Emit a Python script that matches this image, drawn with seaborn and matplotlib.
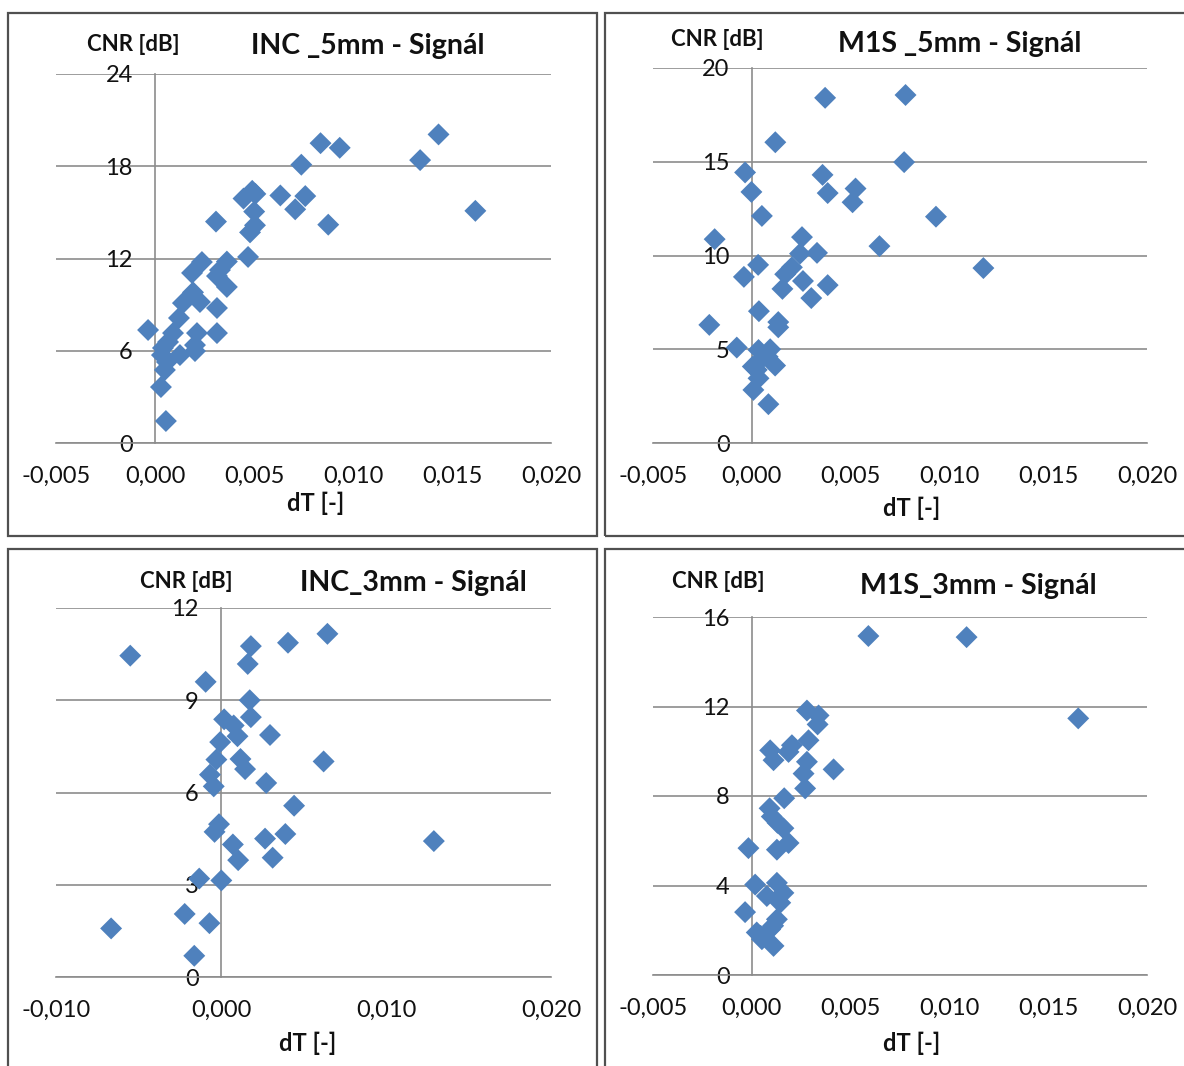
import matplotlib
matplotlib.use("Agg")
import matplotlib.pyplot as plt
import seaborn as sns
import pandas as pd
from matplotlib.patches import Rectangle
from matplotlib.ticker import FixedLocator, FixedFormatter

# ---------------- data ----------------
inc5_dt = [-0.00035, 0.0003, 0.00055, 0.0005, 0.0006, 0.00035, 0.0004, 0.00066, 0.00091, 0.00126,
           0.00121, 0.00141, 0.00192, 0.00202, 0.00202, 0.00212, 0.00227, 0.00187, 0.00237, 0.00313,
           0.00313, 0.00313, 0.00328, 0.00363, 0.00363, 0.00308, 0.0047, 0.0048, 0.00505, 0.00501,
           0.00507, 0.00491, 0.00447, 0.00633, 0.00708, 0.00759, 0.00739, 0.00836, 0.00875, 0.00933,
           0.01339, 0.01432, 0.01618]
inc5_cnr = [7.35, 3.64, 1.43, 4.75, 5.27, 5.72, 6.18, 6.57, 7.15, 5.72,
            8.13, 9.1, 9.8, 5.98, 6.37, 7.15, 9.17, 11.06, 11.77, 7.15,
            8.78, 10.86, 11.25, 10.15, 11.8, 14.4, 12.1, 13.7, 14.16, 15.05,
            16.2, 16.4, 15.9, 16.1, 15.2, 16.06, 18.1, 19.5, 14.2, 19.2,
            18.4, 20.07, 15.1]

m1s5_dt = [0.00371, 0.00778, 0.00119, 0.00771, -0.00034, -0.00002, 0.00358, 0.00384, 0.00525, 0.0051,
           0.00051, 0.00932, -0.00188, 0.00254, 0.00244, 0.0033, 0.00646, 0.01172, 0.00032, -0.0004,
           0.00203, 0.00169, 0.00259, 0.00384, 0.00155, 0.00301, 0.00036, 0.00134, 0.00134, -0.00215,
           -0.00076, 0.00034, 0.00093, 0.00005, 0.00118, 0.00051, 0.00034, 0.00008, 0.00084, 0.00025,
           0.0008]
m1s5_cnr = [18.41, 18.56, 16.04, 14.98, 14.43, 13.39, 14.3, 13.33, 13.57, 12.84,
            12.11, 12.07, 10.87, 10.98, 10.1, 10.14, 10.5, 9.33, 9.5, 8.86,
            9.37, 9.0, 8.64, 8.42, 8.22, 7.73, 7.03, 6.45, 6.17, 6.3,
            5.09, 4.96, 5.0, 4.08, 4.13, 4.5, 3.45, 2.83, 2.07, 3.9,
            4.6]

inc3_dt = [-0.0055, 0.00645, 0.00406, 0.00181, 0.00162, -0.00093, 0.00174, 0.00181, 0.00019, 0.00077,
           0.001, 0.00297, -0.00005, -0.00028, 0.00118, 0.00146, 0.00622, -0.00067, -0.00044, 0.00274,
           0.00443, -0.00012, -0.00039, 0.00072, 0.00267, 0.0039, 0.0129, 0.00104, 0.00313, -0.00132,
           0.00002, -0.0022, -0.00666, -0.0007, -0.00162]
inc3_cnr = [10.45, 11.16, 10.87, 10.76, 10.18, 9.6, 9.0, 8.45, 8.38, 8.18,
            7.83, 7.87, 7.64, 7.07, 7.09, 6.76, 7.01, 6.58, 6.2, 6.31,
            5.57, 4.97, 4.72, 4.31, 4.5, 4.65, 4.42, 3.8, 3.88, 3.2,
            3.14, 2.05, 1.58, 1.75, 0.69]

m1s3_dt = [0.0059, 0.01087, 0.01652, 0.00279, 0.00338, 0.00333, 0.00287, 0.00203, 0.00093, 0.0011,
           0.00186, 0.00279, 0.00262, 0.00414, 0.0027, 0.00164, 0.0009, 0.00101, 0.0013, 0.0016,
           0.00186, 0.00127, -0.00017, 0.00017, 0.00127, 0.0016, 0.00076, 0.00144, -0.00034, 0.00127,
           0.00108, 0.00093, 0.00025, 0.00045, 0.00051, 0.0011]
m1s3_cnr = [15.15, 15.1, 11.47, 11.82, 11.6, 11.2, 10.49, 10.27, 10.04, 9.6,
            9.97, 9.53, 9.0, 9.19, 8.34, 7.9, 7.45, 7.08, 6.8, 6.56,
            5.9, 5.6, 5.67, 4.04, 4.12, 3.67, 3.53, 3.23, 2.81, 2.49,
            2.2, 2.04, 1.9, 1.75, 1.6, 1.3]

titles = ["INC _5mm - Signál", "M1S _5mm - Signál", "INC_3mm - Signál", "M1S_3mm - Signál"]
y_label = "CNR [dB]"
x_label = "dT [-]"

xticks_a = [-0.005, 0.000, 0.005, 0.010, 0.015, 0.020]
xlabels_a = ["-0,005", "0,000", "0,005", "0,010", "0,015", "0,020"]
xticks_b = [-0.010, 0.000, 0.010, 0.020]
xlabels_b = ["-0,010", "0,000", "0,010", "0,020"]

yticks_1 = [0, 6, 12, 18, 24]
yticks_2 = [0, 5, 10, 15, 20]
yticks_3 = [0, 3, 6, 9, 12]
yticks_4 = [0, 4, 8, 12, 16]

# ---------------- style ----------------
sns.set_theme(style="white")
plt.rcParams["font.family"] = ["Lato", "DejaVu Sans"]

W, H = 1184, 1066
fig = plt.figure(figsize=(W / 100, H / 100), dpi=100)
fig.patch.set_facecolor("white")

def fx(px):
    return px / W

def fy(py):
    return 1 - py / H

GRID = "#8c8c8c"
BLUE = "#4F81BD"
TXT = "#111111"
TICK_FS = 17
TITLE_FS = 20.5
YLAB_FS = 16
XLAB_FS = 17

panels = [
    dict(dt=inc5_dt, cnr=inc5_cnr, title=titles[0], area=(56, 74, 551, 443),
         xt=xticks_a, xl=xlabels_a, yt=yticks_1, box=(8, 13, 597, 536),
         ylab=(133, 44), tpos=(368, 46), xlab=(316, 503)),
    dict(dt=m1s5_dt, cnr=m1s5_cnr, title=titles[1], area=(653, 68, 1147, 443),
         xt=xticks_a, xl=xlabels_a, yt=yticks_2, box=(605, 13, 1190, 536),
         ylab=(717, 40), tpos=(960, 44), xlab=(912, 508)),
    dict(dt=inc3_dt, cnr=inc3_cnr, title=titles[2], area=(56, 608, 551, 977),
         xt=xticks_b, xl=xlabels_b, yt=yticks_3, box=(8, 549, 597, 1075),
         ylab=(186, 581), tpos=(413, 583), xlab=(308, 1043)),
    dict(dt=m1s3_dt, cnr=m1s3_cnr, title=titles[3], area=(653, 617, 1147, 975),
         xt=xticks_a, xl=xlabels_a, yt=yticks_4, box=(605, 549, 1190, 1075),
         ylab=(718, 581), tpos=(978, 586), xlab=(912, 1043)),
]

for p in panels:
    x0, y0, x1, y1 = p["box"]
    fig.patches.append(Rectangle((fx(x0), fy(y1)), fx(x1) - fx(x0), fy(y0) - fy(y1),
                                 transform=fig.transFigure, fill=False,
                                 edgecolor="#505050", linewidth=1.6, zorder=0))

    l, t, r, b = p["area"]
    ax = fig.add_axes([fx(l), fy(b), fx(r) - fx(l), fy(t) - fy(b)])
    ax.set_facecolor("none")
    df = pd.DataFrame({"dT": p["dt"], "CNR": p["cnr"]})
    sns.scatterplot(data=df, x="dT", y="CNR", marker="D", s=125, color=BLUE,
                    edgecolor="none", linewidth=0, ax=ax, zorder=3, clip_on=False)

    ax.set_xlim(p["xt"][0], p["xt"][-1])
    ax.set_ylim(p["yt"][0], p["yt"][-1])
    ax.xaxis.set_major_locator(FixedLocator(p["xt"]))
    ax.xaxis.set_major_formatter(FixedFormatter(p["xl"]))
    ax.yaxis.set_major_locator(FixedLocator(p["yt"]))
    ax.yaxis.set_major_formatter(FixedFormatter([str(v) for v in p["yt"]]))

    for s in ["top", "right"]:
        ax.spines[s].set_visible(False)
    ax.spines["left"].set_position(("data", 0))
    ax.spines["left"].set_color(GRID)
    ax.spines["left"].set_linewidth(1.2)
    ax.spines["bottom"].set_color(GRID)
    ax.spines["bottom"].set_linewidth(1.2)

    ax.yaxis.grid(True, color=GRID, linewidth=1.2)
    ax.xaxis.grid(False)
    ax.set_axisbelow(True)

    ax.tick_params(axis="x", direction="out", length=6.5, width=1.2, color=GRID,
                   labelsize=TICK_FS, pad=10, labelcolor=TXT)
    ax.tick_params(axis="y", length=0, labelsize=TICK_FS, pad=16, labelcolor=TXT)
    ax.set_xlabel("")
    ax.set_ylabel("")

    fig.text(fx(p["ylab"][0]), fy(p["ylab"][1]), y_label, ha="center", va="center",
             fontsize=YLAB_FS, fontweight="bold", color=TXT)
    fig.text(fx(p["tpos"][0]), fy(p["tpos"][1]), p["title"], ha="center", va="center",
             fontsize=TITLE_FS, fontweight="bold", color=TXT)
    fig.text(fx(p["xlab"][0]), fy(p["xlab"][1]), x_label, ha="center", va="center",
             fontsize=XLAB_FS, fontweight="bold", color=TXT)

fig.savefig("out.png", dpi=100)
